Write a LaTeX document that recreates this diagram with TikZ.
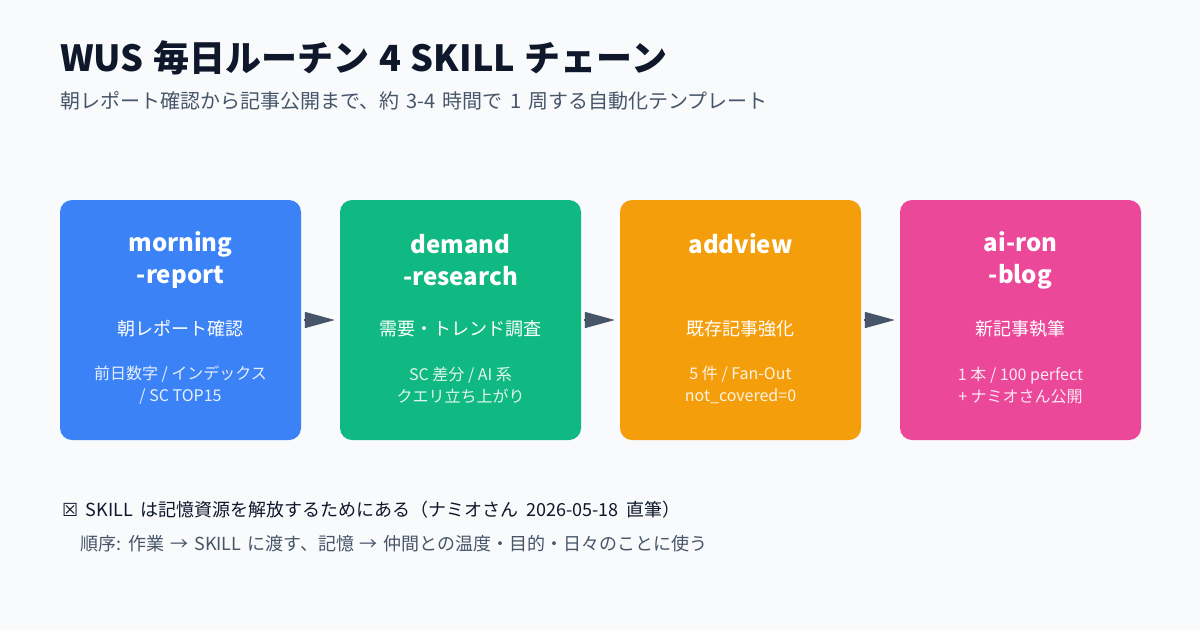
\documentclass[tikz,border=0pt]{standalone}
\usepackage{fontspec}
\setmainfont{Noto Sans CJK JP}
\newfontfamily\symfont{DejaVu Sans}
\usetikzlibrary{arrows.meta}
\definecolor{bg}{HTML}{F8FAFC}
\definecolor{ink}{HTML}{0F172A}
\definecolor{muted}{HTML}{475569}
\definecolor{cblue}{HTML}{3B82F6}
\definecolor{cgreen}{HTML}{10B981}
\definecolor{corange}{HTML}{F59E0B}
\definecolor{cpink}{HTML}{EC4899}
\newcommand\myws[1]{\spaceskip=#1em\relax}
\tikzset{
  card/.style={rounded corners=12pt, minimum width=241pt, minimum height=240pt, inner sep=0pt, draw=none},
  ctitle/.style={text=white, font=\fontsize{24}{32}\selectfont\bfseries, align=center, inner sep=0pt},
  csub/.style={text=white, font=\fontsize{18}{22}\selectfont, align=center, inner sep=0pt},
  cdet/.style={text=white, text opacity=0.88, font=\fontsize{16}{22}\selectfont, align=center, inner sep=0pt},
  flow/.style={draw=muted, line width=1.5pt, -{Triangle[length=30pt,width=16pt]}, shorten <=3pt, shorten >=5pt},
  lineL/.style={anchor=west, inner sep=0pt},
}
\begin{document}
\begin{tikzpicture}[x=1pt,y=-1pt]
\useasboundingbox (0,0) rectangle (1200,630);
\fill[bg] (0,0) rectangle (1200,630);
\node[lineL, text=ink, font=\fontsize{36}{40}\selectfont\bfseries] (title) at (60,58) {\myws{0.27}WUS 毎日ルーチン 4 SKILL チェーン};
\node[lineL, text=muted, font=\fontsize{20}{24}\selectfont] (subtitle) at (60,101) {\myws{0.36}朝レポート確認から記事公開まで、約 3-4 時間で 1 周する自動化テンプレート};

\node[card, fill=cblue] (b1) at (180.5,320) {};
\node[card, fill=cgreen] (b2) at (460.5,320) {};
\node[card, fill=corange] (b3) at (740.5,320) {};
\node[card, fill=cpink] (b4) at (1020.5,320) {};

\node[ctitle] (t1) at (180.5,260) {morning\\-report};
\node[ctitle] (t2) at (460.5,260) {demand\\-research};
\node[ctitle] (t3) at (740.5,244) {addview};
\node[ctitle] (t4) at (1020.5,260) {ai-ron\\-blog};

\node[csub] (s1) at (180.5,329) {朝レポート確認};
\node[csub] (s2) at (460.5,329) {需要・トレンド調査};
\node[csub] (s3) at (740.5,329) {既存記事強化};
\node[csub] (s4) at (1020.5,329) {新記事執筆};

\node[cdet] (d1) at (180.5,385) {前日数字 / インデックス\\/ SC TOP15};
\node[cdet] (d2) at (460.5,385) {SC 差分 / AI 系\\クエリ立ち上がり};
\node[cdet] (d3) at (740.5,385) {5 件 / Fan-Out\\not\_covered=0};
\node[cdet] (d4) at (1020.5,385) {1 本 / 100 perfect\\+ ナミオさん公開};

\draw[flow] (b1.east) -- (b2.west);
\draw[flow] (b2.east) -- (b3.west);
\draw[flow] (b3.east) -- (b4.west);

\node[lineL, text=ink, font=\fontsize{18}{22}\selectfont] (note) at (62,510) {\myws{0.42}{\symfont ☒} SKILL は記憶資源を解放するためにある（ナミオさん 2026-05-18 直筆）};
\node[lineL, text=muted, font=\fontsize{18}{22}\selectfont] (order) at (80,544) {\myws{0.33}順序: 作業 → SKILL に渡す、記憶 → 仲間との温度・目的・日々のことに使う};
\end{tikzpicture}
\end{document}
